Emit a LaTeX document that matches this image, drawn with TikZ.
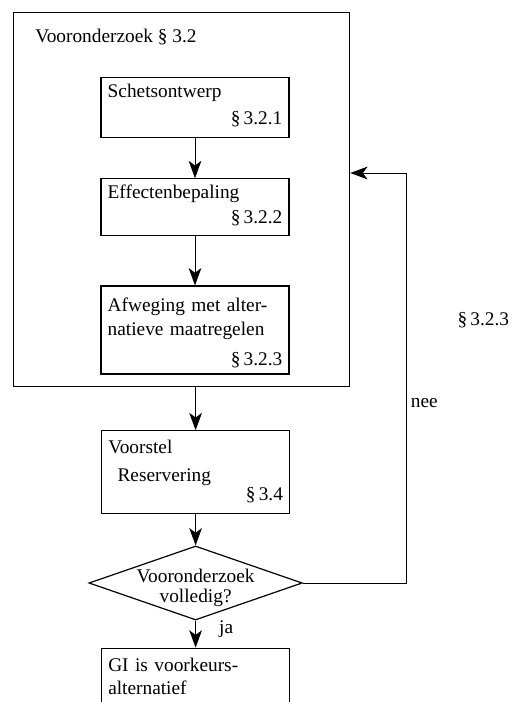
\documentclass[tikz,border=0pt]{standalone}
\usepackage{fontspec}
\setmainfont{Liberation Serif}
\usetikzlibrary{arrows.meta,positioning,shapes.geometric}

\begin{document}
\begin{tikzpicture}[
  font=\fontsize{14.5}{15}\selectfont,
  >={Stealth[length=13pt,width=9.5pt,inset=3.5pt]},
  line/.style={->,line width=0.7pt,draw=black},
  stap/.style={draw,line width=0.9pt,align=left,text width=131pt,
               inner xsep=5pt,inner ysep=4pt,text height=11pt},
  kader/.style={draw,line width=0.9pt,inner sep=0pt,
                minimum width=252pt,minimum height=280.5pt},
  keuze/.style={diamond,draw,line width=0.9pt,inner sep=0pt,
                minimum width=160pt,minimum height=55.5pt}
]
\useasboundingbox (0,0) rectangle (384pt,-526.5pt);
\clip (0,0) rectangle (384pt,-526.5pt);

\node[kader,anchor=north west] (vooronderzoek) at (9.75pt,-9pt) {};
\node[anchor=base west,inner sep=0pt] (titel)
  at ([xshift=16.5pt,yshift=-23.25pt]vooronderzoek.north west)
  {Vooronderzoek \S~3.2};
\node[stap,anchor=north,text depth=26pt] (schets) at (146.25pt,-57.75pt)
  {Schetsontwerp\\[5pt]\hspace*{\fill}\S\,3.2.1};
\node[stap,below=30pt of schets,text depth=23.75pt] (effecten)
  {Effectenbepaling\\[3.75pt]\hspace*{\fill}\S\,3.2.2};
\node[stap,below=36.75pt of effecten,text height=14.75pt,text depth=43.25pt]
  (afweging) {Afweging met alter-\\[3pt]natieve maatregelen\\[7.5pt]%
  \hspace*{\fill}\S\,3.2.3};
\node[stap,below=32.25pt of vooronderzoek,xshift=10.5pt,text height=13.25pt,
  text depth=41pt] (voorstel) {Voorstel\\[6pt]\hspace*{7pt}Reservering\\[-0.75pt]%
  \hspace*{\fill}\S\,3.4};
\node[keuze,below=23.25pt of voorstel,
  label={[align=center,inner sep=0pt,yshift=-4pt]center:Vooronderzoek\\volledig?}]
  (volledig) {};
\node[stap,below=20.25pt of volledig,text height=13.25pt,text depth=60pt] (gi)
  {GI is voorkeurs-\\[2.25pt]alternatief};
\coordinate (terug) at (304.5pt,-129.75pt);

\draw[line] (schets) -- (effecten);
\draw[line] (effecten) -- (afweging);
\draw[line] (voorstel |- vooronderzoek.south) -- (voorstel);
\draw[line] (voorstel) -- (volledig);
\draw[line] (volledig) -- node[pos=0.3,right=14pt]{ja} (gi);
\draw[line] (volledig.east) -| node[pos=0.72,right]{nee}
  node[pos=0.82,right=35pt]{\S\,3.2.3} (terug) -- (vooronderzoek.east |- terug);
\end{tikzpicture}
\end{document}
